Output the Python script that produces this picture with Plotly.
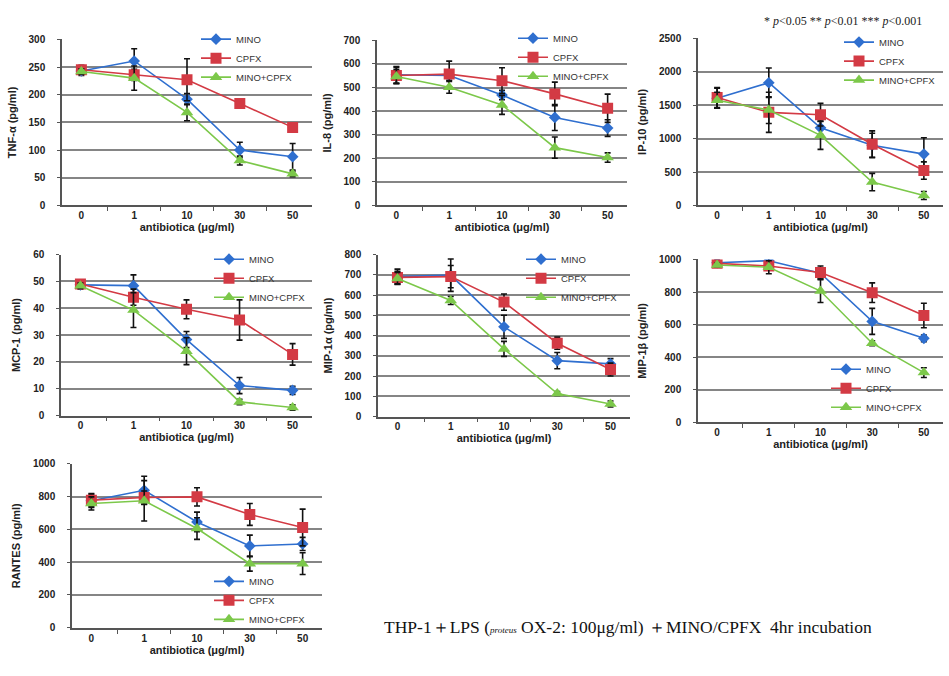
import plotly.graph_objects as go

doses = ["0", "1", "10", "30", "50"]
series_names = ["MINO", "CPFX", "MINO+CPFX"]

tnf_mino = [243, 261, 192, 100, 88]
tnf_cpfx = [245, 236, 227, 184, 141]
tnf_combo = [242, 230, 168, 81, 57]
tnf_err_mino = [8, 22, 10, 14, 24]
tnf_err_cpfx = [8, 10, 38, 5, 3]
tnf_err_combo = [5, 22, 15, 8, 5]

il8_mino = [554, 551, 468, 373, 328]
il8_cpfx = [551, 557, 529, 473, 412]
il8_combo = [547, 501, 426, 245, 203]
il8_err_mino = [35, 20, 20, 55, 35]
il8_err_cpfx = [35, 55, 55, 50, 60]
il8_err_combo = [30, 25, 40, 45, 20]

ip10_mino = [1604, 1836, 1161, 900, 768]
ip10_cpfx = [1614, 1393, 1358, 915, 522]
ip10_combo = [1575, 1427, 1048, 349, 148]
ip10_err_mino = [150, 220, 100, 180, 245]
ip10_err_cpfx = [150, 300, 170, 200, 130]
ip10_err_combo = [120, 200, 210, 130, 60]

mcp1_mino = [48.7, 48.4, 28.3, 11.2, 9.4]
mcp1_cpfx = [49.0, 44.1, 39.6, 35.6, 22.8]
mcp1_combo = [48.4, 39.3, 24.0, 5.1, 3.0]
mcp1_err_mino = [1.5, 4, 3, 3, 1.5]
mcp1_err_cpfx = [1.5, 3, 3.5, 7.5, 4]
mcp1_err_combo = [1, 6.5, 5, 1, 1]

mip1a_mino = [691, 698, 443, 276, 260]
mip1a_cpfx = [687, 691, 565, 362, 232]
mip1a_combo = [682, 573, 334, 114, 62]
mip1a_err_mino = [37, 80, 57, 40, 26]
mip1a_err_cpfx = [30, 55, 40, 30, 32]
mip1a_err_combo = [30, 20, 37, 10, 15]

mip1b_mino = [980, 992, 916, 620, 516]
mip1b_cpfx = [976, 960, 920, 796, 656]
mip1b_combo = [966, 952, 806, 486, 306]
mip1b_err_mino = [15, 20, 30, 80, 20]
mip1b_err_cpfx = [15, 20, 40, 60, 75]
mip1b_err_combo = [10, 40, 70, 15, 30]

rantes_mino = [774, 838, 645, 499, 511]
rantes_cpfx = [778, 794, 798, 691, 611]
rantes_combo = [758, 774, 605, 391, 391]
rantes_err_mino = [40, 86, 60, 66, 40]
rantes_err_cpfx = [40, 40, 56, 67, 112]
rantes_err_combo = [40, 123, 66, 46, 66]

y_titles = ["TNF-α (pg/ml)", "IL-8 (pg/ml)", "IP-10 (pg/ml)", "MCP-1 (pg/ml)",
            "MIP-1α (pg/ml)", "MIP-1β (pg/ml)", "RANTES (pg/ml)"]
y_max = [300, 700, 2500, 60, 800, 1000, 1000]
y_step = [50, 100, 500, 10, 100, 200, 200]
x_title = "antibiotica (μg/ml)"

panels = [
    (tnf_mino, tnf_cpfx, tnf_combo, tnf_err_mino, tnf_err_cpfx, tnf_err_combo),
    (il8_mino, il8_cpfx, il8_combo, il8_err_mino, il8_err_cpfx, il8_err_combo),
    (ip10_mino, ip10_cpfx, ip10_combo, ip10_err_mino, ip10_err_cpfx, ip10_err_combo),
    (mcp1_mino, mcp1_cpfx, mcp1_combo, mcp1_err_mino, mcp1_err_cpfx, mcp1_err_combo),
    (mip1a_mino, mip1a_cpfx, mip1a_combo, mip1a_err_mino, mip1a_err_cpfx, mip1a_err_combo),
    (mip1b_mino, mip1b_cpfx, mip1b_combo, mip1b_err_mino, mip1b_err_cpfx, mip1b_err_combo),
    (rantes_mino, rantes_cpfx, rantes_combo, rantes_err_mino, rantes_err_cpfx, rantes_err_combo),
]

W, H = 949, 676
# plot areas in pixels: x0, x1, ytop, ybottom
boxes = [
    (62, 312, 34, 203),
    (377, 627, 35, 203),
    (698, 943, 33, 203),
    (61, 312, 253, 417),
    (378, 630, 253, 418),
    (698, 943, 258, 424),
    (72, 322, 466, 633),
]
# legend: left x, top y in pixels
legend_pos = [
    (196, 19), (513, 18), (839, 22), (209, 243), (521, 243), (826, 355), (209, 571),
]

colors = ["#2f6fcf", "#d33a44", "#7cc84a"]
symbols = ["diamond", "square", "triangle-up"]
msizes = [9, 11, 11]
tick_font = dict(size=10, color="#222222", family="Liberation Sans", weight="bold")
title_font = dict(size=11, color="#222222", family="Liberation Sans", weight="bold")

fig = go.Figure()
layout = {}
for i, (p, box) in enumerate(zip(panels, boxes)):
    n = i + 1
    sfx = "" if n == 1 else str(n)
    lg = "legend" if n == 1 else f"legend{n}"
    vals = p[:3]
    errs = p[3:]
    for k in range(3):
        fig.add_trace(go.Scatter(
            x=doses, y=vals[k], name=series_names[k],
            mode="lines+markers",
            line=dict(color=colors[k], width=1.6),
            marker=dict(symbol=symbols[k], size=msizes[k], color=colors[k]),
            error_y=dict(type="data", array=errs[k], color="#111111", thickness=1.6, width=3),
            xaxis="x" + sfx, yaxis="y" + sfx, legend=lg,
        ))
    x0, x1, yt, yb = box
    layout["xaxis" + sfx] = dict(
        domain=[x0 / W, x1 / W], anchor="y" + sfx,
        type="category", categoryorder="array", categoryarray=doses,
        showline=True, linecolor="#555555", linewidth=1.5,
        ticks="outside", tickson="boundaries", ticklen=4, tickcolor="#555555",
        showgrid=False, zeroline=False,
        tickfont=tick_font,
        title=dict(text=x_title, standoff=2, font=title_font),
    )
    layout["yaxis" + sfx] = dict(
        domain=[1 - yb / H, 1 - yt / H], anchor="x" + sfx,
        range=[0, y_max[i]], dtick=y_step[i], tick0=0,
        showline=True, linecolor="#555555", linewidth=1.5,
        ticks="outside", ticklen=3, tickcolor="#555555",
        ticklabelstandoff=10,
        showgrid=True, gridcolor="#858585", gridwidth=1.6,
        zeroline=False,
        tickfont=tick_font,
        title=dict(text=y_titles[i], standoff=10, font=title_font),
    )
    lx, ly = legend_pos[i]
    layout[lg] = dict(
        x=lx / W, y=1 - ly / H, xanchor="left", yanchor="top",
        bgcolor="rgba(0,0,0,0)", borderwidth=0,
        font=dict(size=9.5, color="#333333", family="Liberation Sans"),
        itemwidth=30, tracegroupgap=0,
    )

fig.update_layout(**layout)
fig.update_layout(
    width=W, height=H, margin=dict(l=0, r=0, t=0, b=0),
    paper_bgcolor="white", plot_bgcolor="white", showlegend=True,
    annotations=[
        dict(text="* <i>p</i>&lt;0.05 ** <i>p</i>&lt;0.01 *** <i>p</i>&lt;0.001",
             x=843 / W, y=1 - 15 / H, xref="paper", yref="paper", showarrow=False,
             xanchor="center", yanchor="middle",
             font=dict(size=12, color="#222222", family="Liberation Serif")),
        dict(text="THP-1＋LPS (<i><span style='font-size:9px'>proteus</span></i> OX-2: 100μg/ml) ＋MINO/CPFX  4hr incubation",
             x=628 / W, y=1 - 632 / H, xref="paper", yref="paper", showarrow=False,
             xanchor="center", yanchor="middle",
             font=dict(size=17.5, color="#111111", family="Liberation Serif")),
    ],
)

fig.write_html("out.html", config={"displayModeBar": False},
               post_script="document.body.style.margin='0px';document.body.style.overflow='hidden';")
